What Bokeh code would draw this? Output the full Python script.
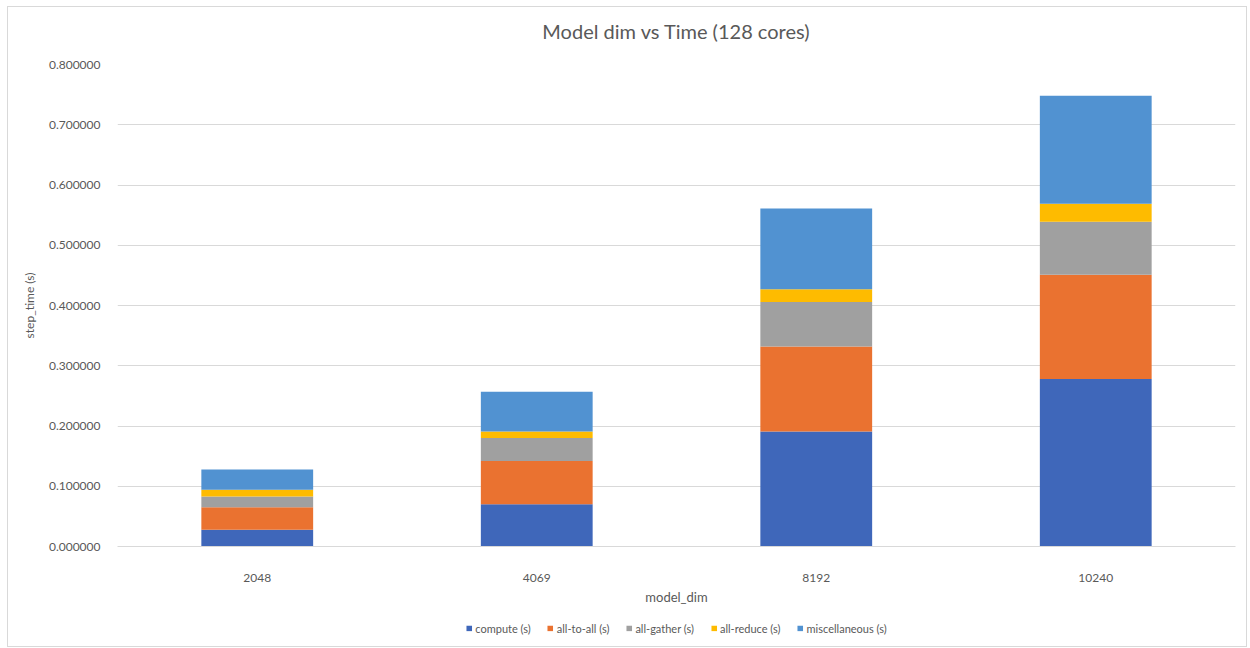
from bokeh.plotting import figure
from bokeh.layouts import column
from bokeh.models import (ColumnDataSource, FactorRange, Range1d, Legend, LegendItem,
                          PrintfTickFormatter, FixedTicker)
from bokeh.core.properties import value
from bokeh.embed import file_html
from bokeh.resources import INLINE

# Step-time breakdown per model dimension (seconds)
model_dims = ["2048", "4069", "8192", "10240"]
compute = [0.028, 0.070, 0.191, 0.278]
all_to_all = [0.037, 0.072, 0.141, 0.173]
all_gather = [0.018, 0.038, 0.074, 0.088]
all_reduce = [0.011, 0.011, 0.021, 0.030]
miscellaneous = [0.034, 0.066, 0.134, 0.179]

series_keys = ["compute", "all_to_all", "all_gather", "all_reduce", "miscellaneous"]
series_labels = ["compute (s)", "all-to-all (s)", "all-gather (s)", "all-reduce (s)", "miscellaneous (s)"]
series_colors = ["#3F67BA", "#EA7230", "#A0A0A0", "#FEBB00", "#5192D1"]
y_ticks = [0.0, 0.1, 0.2, 0.3, 0.4, 0.5, 0.6, 0.7, 0.8]
chart_title = "Model dim vs Time (128 cores)"

source = ColumnDataSource(data=dict(
    model_dim=model_dims,
    compute=compute,
    all_to_all=all_to_all,
    all_gather=all_gather,
    all_reduce=all_reduce,
    miscellaneous=miscellaneous,
))

FONT = "Lato"
TEXT = "#595959"
GRID = "#D9D9D9"
TOTAL_W = 1238


def blank(fig):
    fig.axis.visible = False
    fig.grid.grid_line_color = None
    fig.outline_line_color = None
    return fig


# --- title strip ---
head = blank(figure(width=TOTAL_W, height=50, x_range=Range1d(0, 1), y_range=Range1d(0, 1),
                    output_backend="svg", toolbar_location=None, min_border=0))
head.text(x=[0.5], y=[0.54], text=[chart_title], text_font=value(FONT), text_font_size="20px",
          text_color=TEXT, text_align="center", text_baseline="middle")

# --- main stacked bar chart ---
p = figure(
    x_range=FactorRange(factors=model_dims, range_padding=0),
    y_range=Range1d(0, 0.8),
    frame_width=1118, frame_height=482,
    output_backend="svg", toolbar_location=None,
    min_border_left=109, min_border_right=11, min_border_top=7, min_border_bottom=64,
)
renderers = p.vbar_stack(series_keys, x="model_dim", width=0.4, source=source,
                         color=series_colors, line_color=None)

p.yaxis.ticker = FixedTicker(ticks=y_ticks)
p.yaxis.formatter = PrintfTickFormatter(format="%.6f")
p.yaxis.axis_label = "step_time (s)"
p.xaxis.axis_label = "model_dim"
for ax in (p.xaxis, p.yaxis):
    ax.major_label_text_font = FONT
    ax.major_label_text_font_size = "12px"
    ax.major_label_text_color = TEXT
    ax.axis_label_text_font = FONT
    ax.axis_label_text_font_style = "normal"
    ax.axis_label_text_color = TEXT
    ax.major_tick_line_color = None
    ax.minor_tick_line_color = None
p.yaxis.axis_line_color = None
p.yaxis.axis_label_text_font_size = "12px"
p.yaxis.major_label_standoff = 11
p.yaxis.axis_label_standoff = 9
p.xaxis.axis_line_color = GRID
p.xaxis.axis_label_text_font_size = "13px"
p.xaxis.major_label_standoff = 21
p.xaxis.axis_label_standoff = 4
p.xgrid.grid_line_color = None
p.ygrid.grid_line_color = GRID
p.outline_line_color = None

# --- legend strip ---
# zero-height swatch proxies: only their legend glyphs are visible
foot = blank(figure(width=TOTAL_W, height=36, x_range=Range1d(0, 1), y_range=Range1d(0, 1),
                    output_backend="svg", toolbar_location=None, min_border=0))
swatches = [foot.vbar(x=[0.5], top=[0], bottom=[0], width=0.01, color=c, line_color=None)
            for c in series_colors]
legend = Legend(
    items=[LegendItem(label=lab, renderers=[r]) for lab, r in zip(series_labels, swatches)],
    orientation="horizontal", location="center",
    label_text_font=FONT, label_text_font_size="11px", label_text_color=TEXT,
    glyph_width=7, glyph_height=7, label_standoff=3, spacing=16,
    border_line_color=None, background_fill_alpha=0, margin=0, padding=2,
)
foot.add_layout(legend, "center")

layout = column(head, p, foot, spacing=0)
# thin frame around the whole chart area
layout.margin = (6, 0, 0, 7)
layout.styles = {"border": "1px solid #D9D9D9"}

open("out.html", "w").write(file_html(layout, INLINE))
